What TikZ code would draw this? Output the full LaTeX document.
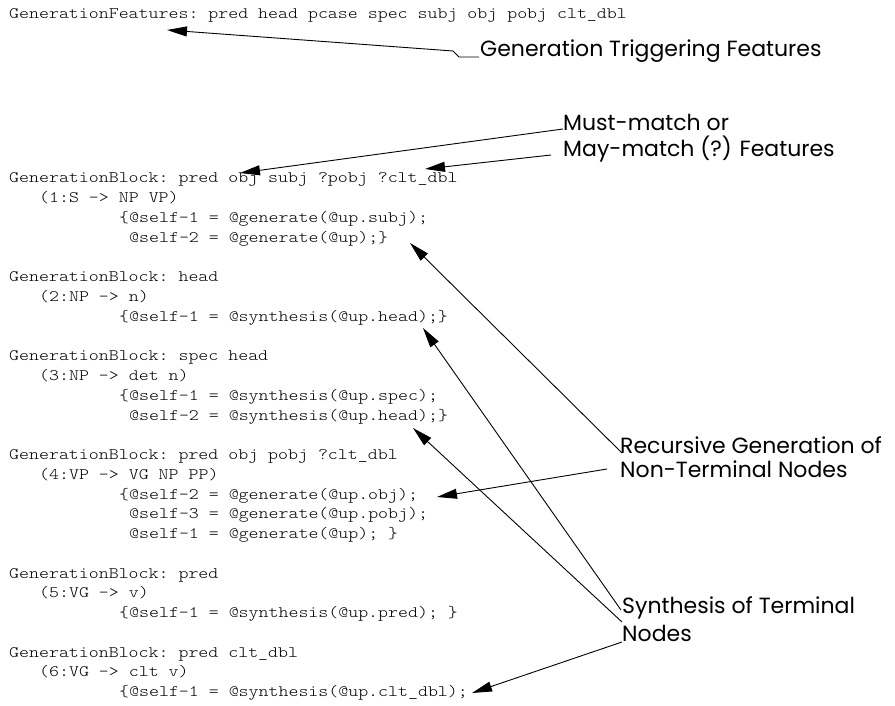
\documentclass[tikz,border=0pt]{standalone}
\usepackage{fontspec}
\setmonofont{Latin Modern Mono Light}[FakeStretch=1.186]
\newfontfamily\labfont{Poppins}
\usetikzlibrary{arrows.meta}
\begin{document}
\begin{tikzpicture}[x=1pt,y=-1pt,
  code/.style={anchor=base west, inner sep=0pt, font=\ttfamily\fontsize{16}{19}\selectfont},
  lab/.style={anchor=base west, inner sep=0pt, font=\labfont\fontsize{22}{26}\selectfont},
  pointer/.style={draw=black, line width=0.9pt, -{Triangle[length=20pt,width=10pt]}}]
\useasboundingbox (0,0) rectangle (895,706);

% code text
\node[code] (gf) at (9,19) {GenerationFeatures: pred head pcase spec subj obj pobj clt\_dbl};

\node[code] (b1h) at (9,183) {GenerationBlock: pred obj subj ?pobj ?clt\_dbl};
\node[code] (b1r) at (39,202.75) {(1:S -> NP VP)};
\node[code] (b1a) at (119,222.5) {\{@self-1 = @generate(@up.subj);};
\node[code] (b1b) at (129,242.25) {@self-2 = @generate(@up);\}};

\node[code] (b2h) at (9,281.75) {GenerationBlock: head};
\node[code] (b2r) at (39,301.5) {(2:NP -> n)};
\node[code] (b2a) at (119,321.25) {\{@self-1 = @synthesis(@up.head);\}};

\node[code] (b3h) at (9,360.75) {GenerationBlock: spec head};
\node[code] (b3r) at (39,380.5) {(3:NP -> det n)};
\node[code] (b3a) at (119,400.25) {\{@self-1 = @synthesis(@up.spec);};
\node[code] (b3b) at (129,420) {@self-2 = @synthesis(@up.head);\}};

\node[code] (b4h) at (9,459.5) {GenerationBlock: pred obj pobj ?clt\_dbl};
\node[code] (b4r) at (39,479.25) {(4:VP -> VG NP PP)};
\node[code] (b4a) at (119,499) {\{@self-2 = @generate(@up.obj);};
\node[code] (b4b) at (129,518.75) {@self-3 = @generate(@up.pobj);};
\node[code] (b4c) at (129,538.5) {@self-1 = @generate(@up); \}};

\node[code] (b5h) at (9,578) {GenerationBlock: pred};
\node[code] (b5r) at (39,597.75) {(5:VG -> v)};
\node[code] (b5a) at (119,617.5) {\{@self-1 = @synthesis(@up.pred); \}};

\node[code] (b6h) at (9,657) {GenerationBlock: pred clt\_dbl};
\node[code] (b6r) at (39,676.75) {(6:VG -> clt v)};
\node[code] (b6a) at (119,696.5) {\{@self-1 = @synthesis(@up.clt\_dbl);};

% labels
\node[lab] (gtf) at (480,57) {Generation Triggering Features};
\node[lab] (mm1) at (563,131) {Must-match or};
\node[lab] (mm2) at (563,157) {May-match (?) Features};
\node[lab] (rg1) at (620,453) {Recursive Generation of};
\node[lab] (rg2) at (620,477) {Non-Terminal Nodes};
\node[lab] (st1) at (622,613) {Synthesis of Terminal};
\node[lab] (st2) at (622,641) {Nodes};

% connector ends
\coordinate (tGF) at (167,30);
\coordinate (tObj) at (240,173);
\coordinate (tClt) at (425,169);
\coordinate (tUp) at (410,243);
\coordinate (tHead2) at (423,328);
\coordinate (tHead3) at (413,428);
\coordinate (tObj4) at (437,497);
\coordinate (tClt6) at (472,693);

\coordinate (sGF) at (479,57);
\coordinate (sMM) at (563,129);
\coordinate (sMay) at (551,155);
\coordinate (sRG1) at (622,453);
\coordinate (sRG2) at (607,469);
\coordinate (sST1) at (621,610);
\coordinate (sST2) at (622,622);
\coordinate (sST3) at (622,642);

\draw[pointer] (sGF) -- (459,57) -- (453,51) -- (tGF);
\draw[pointer] (sMM) -- (tObj);
\draw[pointer] (sMay) -- (tClt);
\draw[pointer] (sRG1) -- (tUp);
\draw[pointer] (sRG2) -- (tObj4);
\draw[pointer] (sST1) -- (tHead2);
\draw[pointer] (sST2) -- (tHead3);
\draw[pointer] (sST3) -- (tClt6);
\end{tikzpicture}
\end{document}
